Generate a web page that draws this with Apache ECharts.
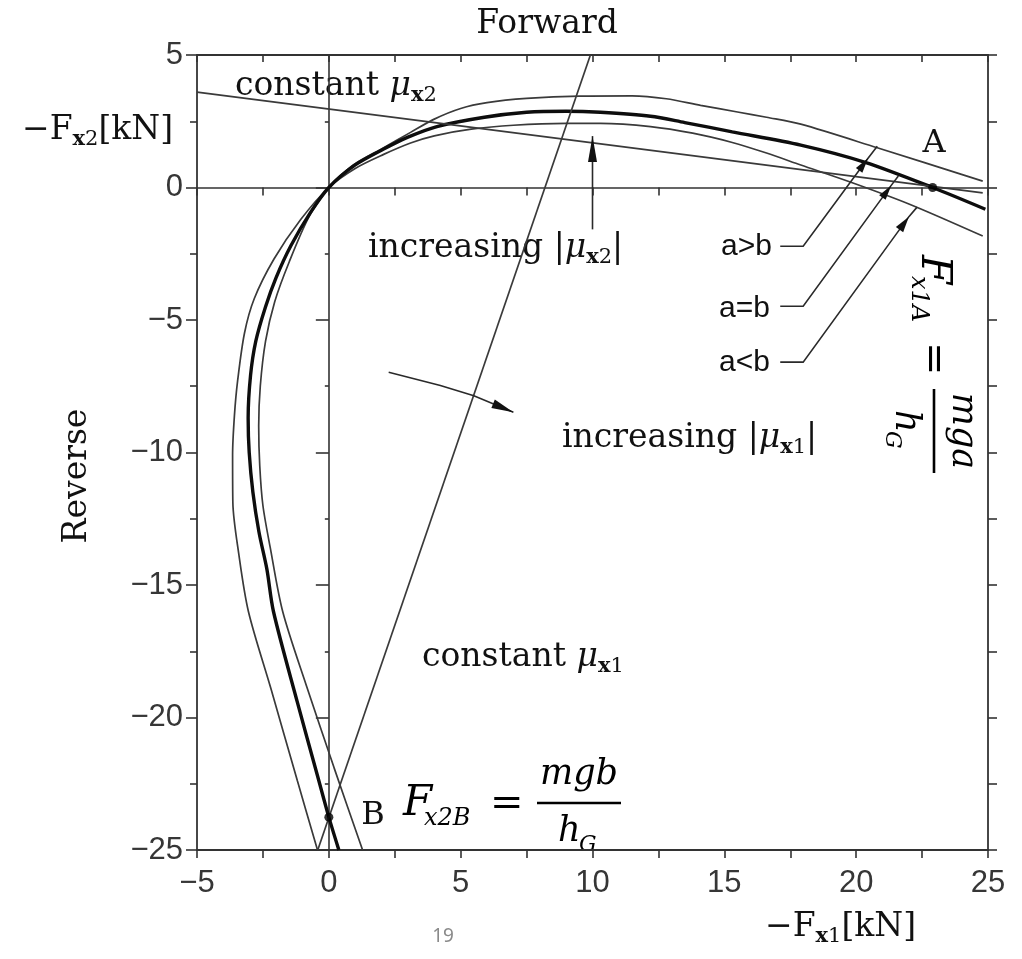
<!DOCTYPE html>
<html>
<head>
<meta charset="utf-8">
<title>Braking force distribution</title>
<script src="https://cdn.jsdelivr.net/npm/echarts@6.0.0/dist/echarts.min.js"></script>
<style>
  html, body { margin: 0; padding: 0; background: #fff; }
  #chart { width: 1022px; height: 959px; }
</style>
</head>
<body>
<div id="chart"></div>
<script>
// Axis ranges [kN]
const xRange = [-5, 25];
const yRange = [-25, 5];
const majorStep = 5;

// Limit curves for the three weight distributions, as (-Fx1, -Fx2) pairs in kN
const curveAgtB = [
  [1.28, -25], [0.2, -21.9], [-0.85, -18.8], [-1.75, -16.0], [-2.22, -13.6], [-2.5, -12.0],
  [-2.62, -10.5], [-2.66, -9.0], [-2.6, -7.5], [-2.4, -5.8], [-2.05, -4.3], [-1.5, -2.8],
  [-0.75, -1.1], [0, 0], [0.5, 0.5], [1.0, 0.9], [2.08, 1.5], [3.1, 2.08], [4, 2.58], [5, 2.98],
  [6, 3.2], [7.5, 3.36], [9.5, 3.45], [11.5, 3.46], [12.8, 3.35], [14.1, 3.1], [15.5, 2.85],
  [16.6, 2.65], [17.9, 2.39], [20.8, 1.5], [24.8, 0.24]
];
const curveAeqB = [
  [0.38, -25], [0, -23.76], [-0.43, -22.2], [-1.2, -19.4], [-2.1, -16.0], [-2.35, -14.4],
  [-2.65, -13.0], [-2.88, -11.5], [-3.02, -10.0], [-3.06, -8.7], [-2.97, -7.1], [-2.77, -5.8],
  [-2.4, -4.5], [-2.0, -3.4], [-1.44, -2.2], [-0.7, -0.95], [0, 0], [1, 0.85], [2.08, 1.45],
  [3, 1.9], [4.1, 2.3], [5.9, 2.65], [7.5, 2.84], [9, 2.88], [10.3, 2.84], [12.2, 2.69],
  [13.5, 2.45], [15.3, 2.1], [17.9, 1.6], [20.34, 0.95], [22.9, 0], [24.9, -0.82]
];
const curveAltB = [
  [-0.43, -25], [-1.19, -22.4], [-2.2, -18.9], [-3.05, -16.0], [-3.42, -13.8], [-3.64, -11.9],
  [-3.65, -10.1], [-3.58, -8.6], [-3.46, -7.3], [-3.2, -5.5], [-2.83, -4.2], [-2.08, -2.7],
  [-1.06, -1.2], [0, 0], [1, 0.72], [2.08, 1.25], [3.1, 1.68], [4, 1.95], [5.4, 2.2], [7, 2.35],
  [9, 2.42], [10.3, 2.42], [12.2, 2.3], [13.8, 2.05], [15.3, 1.7], [16.6, 1.3], [17.9, 0.85],
  [19.8, 0.2], [22, -0.62], [24.8, -1.83]
];

// Lines of constant friction coefficient
const lineMuX2 = [[-5, 3.6], [24.8, -0.2]];
const lineMuX1 = [[-0.42, -25], [9.92, 5]];

// Points A and B where the a=b curve meets the axes
const pointA = [22.9, 0];
const pointB = [0, -23.76];

// Leader lines: label stub, elbow, arrow tip, end on the curve
const leaderAgtB = [[17.12, -2.215], [17.99, -2.215], [20.45, 1.1], [20.8, 1.56]];
const leaderAeqB = [[17.12, -4.48], [17.99, -4.48], [21.33, 0.08], [21.6, 0.43]];
const leaderAltB = [[17.12, -6.59], [17.99, -6.59], [22.0, -1.1], [22.31, -0.74]];

// Direction arrows for increasing friction
const arrowMuX2 = [[10.0, -1.58], [10.0, 1.94]];
const arrowMuX1 = [[2.27, -6.97], [4.23, -7.47], [5.5, -7.86], [7.0, -8.48]];

const arrowPaths = [leaderAgtB, leaderAeqB, leaderAltB, arrowMuX2, arrowMuX1];
const arrowTipIndex = [2, 2, 2, 1, 3];
const arrowHeadSize = [[15, 4], [15, 4], [16, 4.5], [26, 4.5], [22, 4.5]];

const SERIF = 'DejaVu Serif';
const SANS = 'Liberation Sans';
const INK = '#111';
const AXIS = '#333';

const minus = v => (v < 0 ? '\u2212' + (-v) : String(v));

const chart = echarts.init(document.getElementById('chart'), null, { renderer: 'canvas' });

const gridRect = { left: 197, right: 34, top: 55, bottom: 109, outerBoundsMode: 'none' };

const axisBase = {
  type: 'value',
  interval: majorStep,
  splitLine: { show: false },
  axisLine: { show: true, onZero: false, lineStyle: { color: AXIS, width: 1.8 } },
  axisTick: { show: true, lineStyle: { color: AXIS, width: 1.6 } },
  minorTick: { show: true, splitNumber: 2, lineStyle: { color: AXIS, width: 1.6 } },
  minorSplitLine: { show: false },
  axisLabel: { show: false }
};

function axis(extra) {
  const a = JSON.parse(JSON.stringify(axisBase));
  for (const k in extra) {
    if (typeof extra[k] === 'object' && !Array.isArray(extra[k]) && a[k]) Object.assign(a[k], extra[k]);
    else a[k] = extra[k];
  }
  return a;
}

const tickLabel = {
  show: true, fontFamily: SANS, fontSize: 31, color: '#363636', formatter: minus
};

function lineSeries(name, data, style) {
  return {
    name, type: 'line', data, xAxisIndex: 0, yAxisIndex: 0,
    showSymbol: false, smooth: 0.3, silent: true,
    lineStyle: style, z: 3
  };
}

const thin = { color: '#3a3a3a', width: 1.7 };
const thick = { color: '#0d0d0d', width: 3.4 };

// Fraction formula laid out horizontally; rotated as a whole when needed
function formula(x, y, rotation, sub, num) {
  const t = (text, tx, ty, size, italic, align) => ({
    type: 'text', x: tx, y: ty,
    style: {
      text, fontFamily: SERIF, fontSize: size, fontStyle: italic ? 'italic' : 'normal',
      fill: '#000', align: align || 'left', verticalAlign: 'middle'
    }
  });
  return {
    type: 'group', x, y, rotation, silent: true,
    children: [
      t('F', 0, 1, 42, true),
      t(sub, 21, 16, 24, true),
      t('=', 87, 1.5, 40, false),
      { type: 'rect', shape: { x: 134, y: -1.3, width: 84, height: 2.6 }, style: { fill: '#000' } },
      t(num, 176, -28, 35, true, 'center'),
      t('h', 155, 29, 35, true),
      t('G', 176, 42, 22, true)
    ]
  };
}

const richMu = {
  n: { fontFamily: SERIF, fontSize: 33, fill: INK, lineHeight: 40, verticalAlign: 'middle' },
  m: { fontFamily: SERIF, fontSize: 33, fontStyle: 'italic', fill: INK, lineHeight: 40, verticalAlign: 'middle' },
  s: { fontFamily: SERIF, fontSize: 21, fontWeight: 'bold', fill: INK, lineHeight: 22, verticalAlign: 'bottom' },
  d: { fontFamily: SERIF, fontSize: 21, fill: INK, lineHeight: 22, verticalAlign: 'bottom' }
};

function richText(text, x, y, align) {
  return {
    type: 'text', x, y, silent: true,
    style: { text, rich: richMu, align: align || 'left', verticalAlign: 'middle', fill: INK }
  };
}

function plainText(text, x, y, font, size, align, extra) {
  return {
    type: 'text', x, y, silent: true,
    style: Object.assign({
      text, fontFamily: font, fontSize: size, fill: INK,
      align: align || 'center', verticalAlign: 'middle'
    }, extra || {})
  };
}

const option = {
  animation: false,
  backgroundColor: '#fff',
  grid: [Object.assign({}, gridRect), Object.assign({}, gridRect)],
  xAxis: [
    axis({
      gridIndex: 0, position: 'bottom', min: xRange[0], max: xRange[1],
      axisTick: { length: 8 }, minorTick: { length: 8 },
      axisLabel: Object.assign({ margin: 18 }, tickLabel)
    }),
    axis({
      gridIndex: 0, position: 'top', min: xRange[0], max: xRange[1],
      axisTick: { inside: true, length: 7 }, minorTick: { length: 7 }
    }),
    axis({
      gridIndex: 1, position: 'bottom', min: xRange[0], max: xRange[1],
      axisLine: { onZero: true, lineStyle: { color: AXIS, width: 1.6 } },
      axisTick: { length: 8 }, minorTick: { length: 8 }
    })
  ],
  yAxis: [
    axis({
      gridIndex: 0, position: 'left', min: yRange[0], max: yRange[1],
      axisTick: { length: 11 }, minorTick: { length: 7 },
      axisLabel: Object.assign({ margin: 14 }, tickLabel)
    }),
    axis({
      gridIndex: 0, position: 'right', min: yRange[0], max: yRange[1],
      axisTick: { length: 9 }, minorTick: { length: 9 }
    }),
    axis({
      gridIndex: 1, position: 'left', min: yRange[0], max: yRange[1],
      axisLine: { onZero: true, lineStyle: { color: AXIS, width: 1.6 } },
      axisTick: { length: 13 }, minorTick: { length: 4 }
    })
  ],
  series: [
    lineSeries('a>b', curveAgtB, thin),
    lineSeries('a<b', curveAltB, thin),
    lineSeries('a=b', curveAeqB, thick),
    Object.assign(lineSeries('constant mu x2', lineMuX2, thin), { smooth: false }),
    Object.assign(lineSeries('constant mu x1', lineMuX1, thin), { smooth: false }),
    {
      name: 'arrows', type: 'custom', coordinateSystem: 'cartesian2d',
      xAxisIndex: 0, yAxisIndex: 0, silent: true, z: 4,
      data: arrowPaths.map((p, i) => [p[0][0], p[0][1], i]),
      encode: { x: 0, y: 1 },
      renderItem(params, api) {
        const i = api.value(2);
        const pts = arrowPaths[i].map(p => api.coord(p));
        const t = arrowTipIndex[i];
        const tip = pts[t], prev = pts[t - 1];
        const dx = tip[0] - prev[0], dy = tip[1] - prev[1];
        const len = Math.hypot(dx, dy);
        const ux = dx / len, uy = dy / len;
        const [hl, hw] = arrowHeadSize[i];
        const bx = tip[0] - ux * hl, by = tip[1] - uy * hl;
        return {
          type: 'group',
          children: [
            { type: 'polyline', shape: { points: pts }, style: { stroke: '#2a2a2a', lineWidth: 1.6, fill: null } },
            {
              type: 'polygon',
              shape: { points: [[tip[0], tip[1]], [bx - uy * hw, by + ux * hw], [bx + uy * hw, by - ux * hw]] },
              style: { fill: '#111' }
            }
          ]
        };
      }
    },
    {
      name: 'A, B', type: 'scatter', xAxisIndex: 0, yAxisIndex: 0, silent: true, z: 5,
      symbol: 'circle', symbolSize: 9, itemStyle: { color: '#000' },
      data: [pointA, pointB]
    }
  ],
  graphic: [
    plainText('Forward', 547, 24, SERIF, 33, 'center'),
    Object.assign(plainText('Reverse', 77, 476, SERIF, 33, 'center'), { rotation: Math.PI / 2 }),
    richText('{n|\u2212F}{s|x}{d|2}{n|[kN]}', 22, 130, 'left'),
    richText('{n|\u2212F}{s|x}{d|1}{n|[kN]}', 765, 927, 'left'),
    richText('{n|constant }{m|\u03bc}{s|x}{d|2}', 235, 86, 'left'),
    richText('{n|increasing |}{m|\u03bc}{s|x}{d|2}{n||}', 368, 248, 'left'),
    richText('{n|increasing |}{m|\u03bc}{s|x}{d|1}{n||}', 562, 438, 'left'),
    richText('{n|constant }{m|\u03bc}{s|x}{d|1}', 422, 657, 'left'),
    plainText('a>b', 772, 247, SANS, 30, 'right'),
    plainText('a=b', 770, 309, SANS, 30, 'right'),
    plainText('a<b', 770, 363, SANS, 30, 'right'),
    plainText('A', 934, 144, SERIF, 32, 'center'),
    plainText('B', 373, 816, SERIF, 32, 'center'),
    formula(403, 803, 0, 'x2B', 'mgb'),
    formula(934, 255, -Math.PI / 2, 'x1A', 'mga'),
    plainText('19', 443, 937, 'Noto Sans', 19, 'center', { fill: '#8a8a8a' })
  ]
};

chart.setOption(option);
</script>
</body>
</html>
